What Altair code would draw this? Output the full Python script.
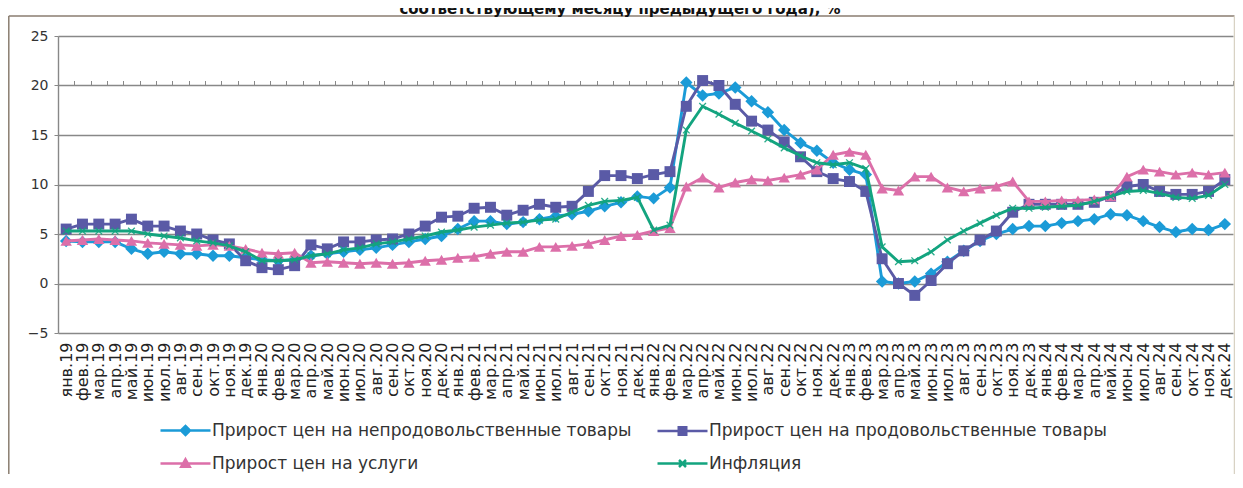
import json
import altair as alt
import pandas as pd

# ---------------- data ----------------
month_abbr = ['янв', 'фев', 'мар', 'апр', 'май', 'июн', 'июл', 'авг', 'сен', 'окт', 'ноя', 'дек']
years = ['19', '20', '21', '22', '23', '24']
labels = [f'{m}.{y}' for y in years for m in month_abbr]

series_names = [
    'Прирост цен на непродовольственные товары',
    'Прирост цен на продовольственные товары',
    'Прирост цен на услуги',
    'Инфляция',
]

nonfood = [4.3, 4.2, 4.2, 4.2, 3.5, 3.0, 3.2, 3.0, 3.0, 2.8, 2.8, 2.6,
           2.4, 2.3, 2.4, 2.8, 3.0, 3.2, 3.4, 3.6, 3.9, 4.2, 4.5, 4.8,
           5.5, 6.3, 6.3, 6.0, 6.2, 6.5, 6.8, 7.0, 7.3, 7.8, 8.2, 8.8,
           8.6, 9.7, 20.3, 19.0, 19.2, 19.8, 18.4, 17.3, 15.5, 14.2, 13.4, 12.2,
           11.5, 11.0, 0.2, 0.0, 0.2, 1.0, 2.2, 3.3, 4.3, 5.0, 5.5, 5.8,
           5.8, 6.1, 6.3, 6.5, 7.0, 6.9, 6.3, 5.7, 5.2, 5.5, 5.4, 6.0]

food = [5.5, 6.0, 6.0, 6.0, 6.5, 5.8, 5.8, 5.3, 5.0, 4.4, 4.0, 2.3,
        1.6, 1.4, 1.8, 3.9, 3.5, 4.2, 4.2, 4.4, 4.5, 5.0, 5.8, 6.7,
        6.8, 7.6, 7.7, 6.9, 7.4, 8.0, 7.7, 7.8, 9.3, 10.9, 10.9, 10.6,
        11.0, 11.3, 17.9, 20.5, 20.0, 18.1, 16.4, 15.5, 14.3, 12.8, 11.3, 10.6,
        10.3, 9.3, 2.5, 0.0, -1.2, 0.3, 2.0, 3.3, 4.4, 5.3, 7.2, 8.0,
        8.0, 8.0, 8.0, 8.2, 8.8, 9.8, 10.0, 9.3, 9.0, 9.0, 9.3, 10.5]

services = [4.3, 4.4, 4.5, 4.4, 4.3, 4.1, 4.0, 3.9, 3.8, 3.9, 3.8, 3.5,
            3.1, 3.0, 3.1, 2.1, 2.2, 2.1, 2.0, 2.1, 2.0, 2.1, 2.3, 2.4,
            2.6, 2.7, 3.0, 3.2, 3.2, 3.7, 3.7, 3.8, 4.0, 4.4, 4.8, 4.9,
            5.3, 5.6, 9.8, 10.7, 9.7, 10.2, 10.5, 10.4, 10.7, 11.0, 11.5, 13.0,
            13.3, 13.0, 9.6, 9.4, 10.8, 10.8, 9.7, 9.3, 9.6, 9.8, 10.3, 8.3,
            8.3, 8.4, 8.4, 8.5, 8.8, 10.8, 11.5, 11.3, 11.0, 11.2, 11.0, 11.2]

inflation = [5.3, 5.3, 5.3, 5.3, 5.3, 5.0, 4.8, 4.6, 4.3, 4.1, 3.8, 3.2,
             2.3, 2.3, 2.4, 2.8, 3.0, 3.4, 3.6, 4.0, 4.2, 4.5, 4.8, 5.2,
             5.4, 5.7, 5.9, 6.1, 6.2, 6.4, 6.5, 7.2, 7.9, 8.3, 8.4, 8.7,
             5.4, 5.9, 15.5, 17.9, 17.1, 16.2, 15.4, 14.6, 13.7, 12.9, 12.2, 12.0,
             12.2, 11.6, 3.7, 2.2, 2.3, 3.2, 4.4, 5.3, 6.1, 6.9, 7.6, 7.6,
             7.7, 7.8, 7.9, 8.3, 8.8, 9.3, 9.4, 9.1, 8.7, 8.6, 8.9, 10.0]

colors = ['#1b9bd7', '#5a5aa6', '#dc6fa9', '#13a47f']
title_text = 'соответствующему месяцу предыдущего года), %'

# ---------------- table ----------------
values = [nonfood, food, services, inflation]
rows = []
for name, vals in zip(series_names, values):
    for i, v in enumerate(vals):
        rows.append({'idx': i, 'series': name, 'value': v})
df = pd.DataFrame(rows)

# ---------------- layout ----------------
PW, PH = 1175, 297
PAD = {'left': 50, 'top': 28, 'right': 2, 'bottom': 141}
FONT = 'DejaVu Sans'
GRID = '#888888'

xscale = alt.Scale(domain=[-0.5, 71.5], nice=False, zero=False)
yscale = alt.Scale(domain=[-5, 25], nice=False, zero=False)
yaxis = alt.Axis(values=[-5, 0, 5, 10, 15, 20, 25], title=None, grid=True,
                 gridColor=GRID, gridWidth=1.4, domain=True, domainColor=GRID,
                 domainWidth=1.4, ticks=True, tickColor=GRID, tickSize=4,
                 labelFont=FONT, labelFontSize=14, labelColor='#333333',
                 labelPadding=6)
Y = alt.Y('value:Q', scale=yscale, axis=yaxis)

label_expr = json.dumps(labels, ensure_ascii=False) + '[datum.value]'
xaxis_labels = alt.Axis(values=list(range(72)), labelExpr=label_expr, title=None,
                        labelAngle=-90, labelAlign='right', labelBaseline='middle',
                        labelFont=FONT, labelFontSize=16, labelColor='#222222',
                        labelPadding=9, labelOverlap=False, labelFlush=False,
                        labelBound=False, ticks=False, domain=False, grid=False)
xaxis_ticks = alt.Axis(values=[i - 0.5 for i in range(73)], labels=False, title=None,
                       ticks=True, tickSize=5, tickColor=GRID, tickWidth=1,
                       domain=False, grid=False, offset=-PH * 5 / 30)

marker_shapes = ['diamond', 'square', 'triangle-up', 'M-1,-1L1,1M-1,1L1,-1']
marker_sizes = [155, 120, 130, 45]

layers = []
for k, name in enumerate(series_names):
    base = alt.Chart(df).transform_filter(alt.datum.series == name)
    xax = xaxis_labels if k == 0 else None
    X = alt.X('idx:Q', scale=xscale, axis=xax)
    line = base.mark_line(strokeWidth=2.9, color=colors[k]).encode(x=X, y=Y)
    if k == 3:
        pts = base.mark_point(shape=marker_shapes[k], filled=False, size=marker_sizes[k],
                              strokeWidth=1.3, opacity=0.9, color=colors[k]).encode(
            x=alt.X('idx:Q', scale=xscale, axis=None), y=Y)
    else:
        pts = base.mark_point(shape=marker_shapes[k], filled=True, size=marker_sizes[k],
                              opacity=1, color=colors[k]).encode(
            x=alt.X('idx:Q', scale=xscale, axis=None), y=Y)
    layers += [line, pts]

# tick marks on the zero line
ticks_layer = alt.Chart(df).mark_point(opacity=0).encode(
    x=alt.X('idx:Q', scale=xscale, axis=xaxis_ticks), y=Y)

# legend-only layer (invisible marks, visible legend symbols);
# legend fills columns first, so order entries to read row by row like the original
legend_paths = [
    'M-5,0L5,0M-0.9,0L0,-0.9L0.9,0L0,0.9Z',
    'M-5,0L5,0M-0.75,-0.75L0.75,-0.75L0.75,0.75L-0.75,0.75Z',
    'M-5,0L5,0M0,-0.85L0.85,0.65L-0.85,0.65Z',
    'M-5,0L5,0M-0.7,-0.7L0.7,0.7M-0.7,0.7L0.7,-0.7',
]
legend_order = [0, 2, 1, 3]
leg_domain = [series_names[i] for i in legend_order]
leg_colors = [colors[i] for i in legend_order]
leg_paths = [legend_paths[i] for i in legend_order]

leg = alt.Legend(title=None, orient='none', legendX=119, legendY=386, columns=2,
                 labelFont=FONT, labelFontSize=17, labelColor='#333333',
                 symbolSize=100, symbolStrokeWidth=2.5, symbolOpacity=1, labelOffset=18,
                 columnPadding=20, rowPadding=14, padding=0, labelLimit=700)
legend_layer = alt.Chart(df).mark_point(filled=True, opacity=0).encode(
    x=alt.X('idx:Q', scale=xscale, axis=None), y=Y,
    shape=alt.Shape('series:N', scale=alt.Scale(domain=leg_domain, range=leg_paths), legend=leg),
    fill=alt.Fill('series:N', scale=alt.Scale(domain=leg_domain, range=leg_colors), legend=leg),
    stroke=alt.Stroke('series:N', scale=alt.Scale(domain=leg_domain, range=leg_colors), legend=leg),
)

# frame and title
one = alt.Data(values=[{'t': title_text}])
frame_left = alt.Chart(one).mark_rule(color='#8a7d70', strokeWidth=1.5).encode(
    x=alt.value(-49.2), y=alt.value(-20), y2=alt.value(PH + 200))
frame_top = alt.Chart(one).mark_rule(color='#8a7d70', strokeWidth=1.5).encode(
    x=alt.value(-49.2), x2=alt.value(PW + 1.5), y=alt.value(-20))
frame_right = alt.Chart(one).mark_rule(color='#d8d2c4', strokeWidth=1.5).encode(
    x=alt.value(PW + 1.5), y=alt.value(-20), y2=alt.value(PH + 200))
title = alt.Chart(one).mark_text(font=FONT, fontSize=15, fontWeight='bold', align='center',
                                 baseline='alphabetic', color='#111111').encode(
    x=alt.value(562), y=alt.value(-22), text='t:N')

chart = alt.layer(*layers, ticks_layer, legend_layer, frame_left, frame_top, frame_right, title).resolve_axis(
    x='independent'
).properties(
    width=PW, height=PH,
    autosize=alt.AutoSizeParams(type='none'),
    padding=PAD,
    background='white',
).configure_view(stroke=None)

chart.save('out.html', embed_options={'renderer': 'svg', 'actions': False})
